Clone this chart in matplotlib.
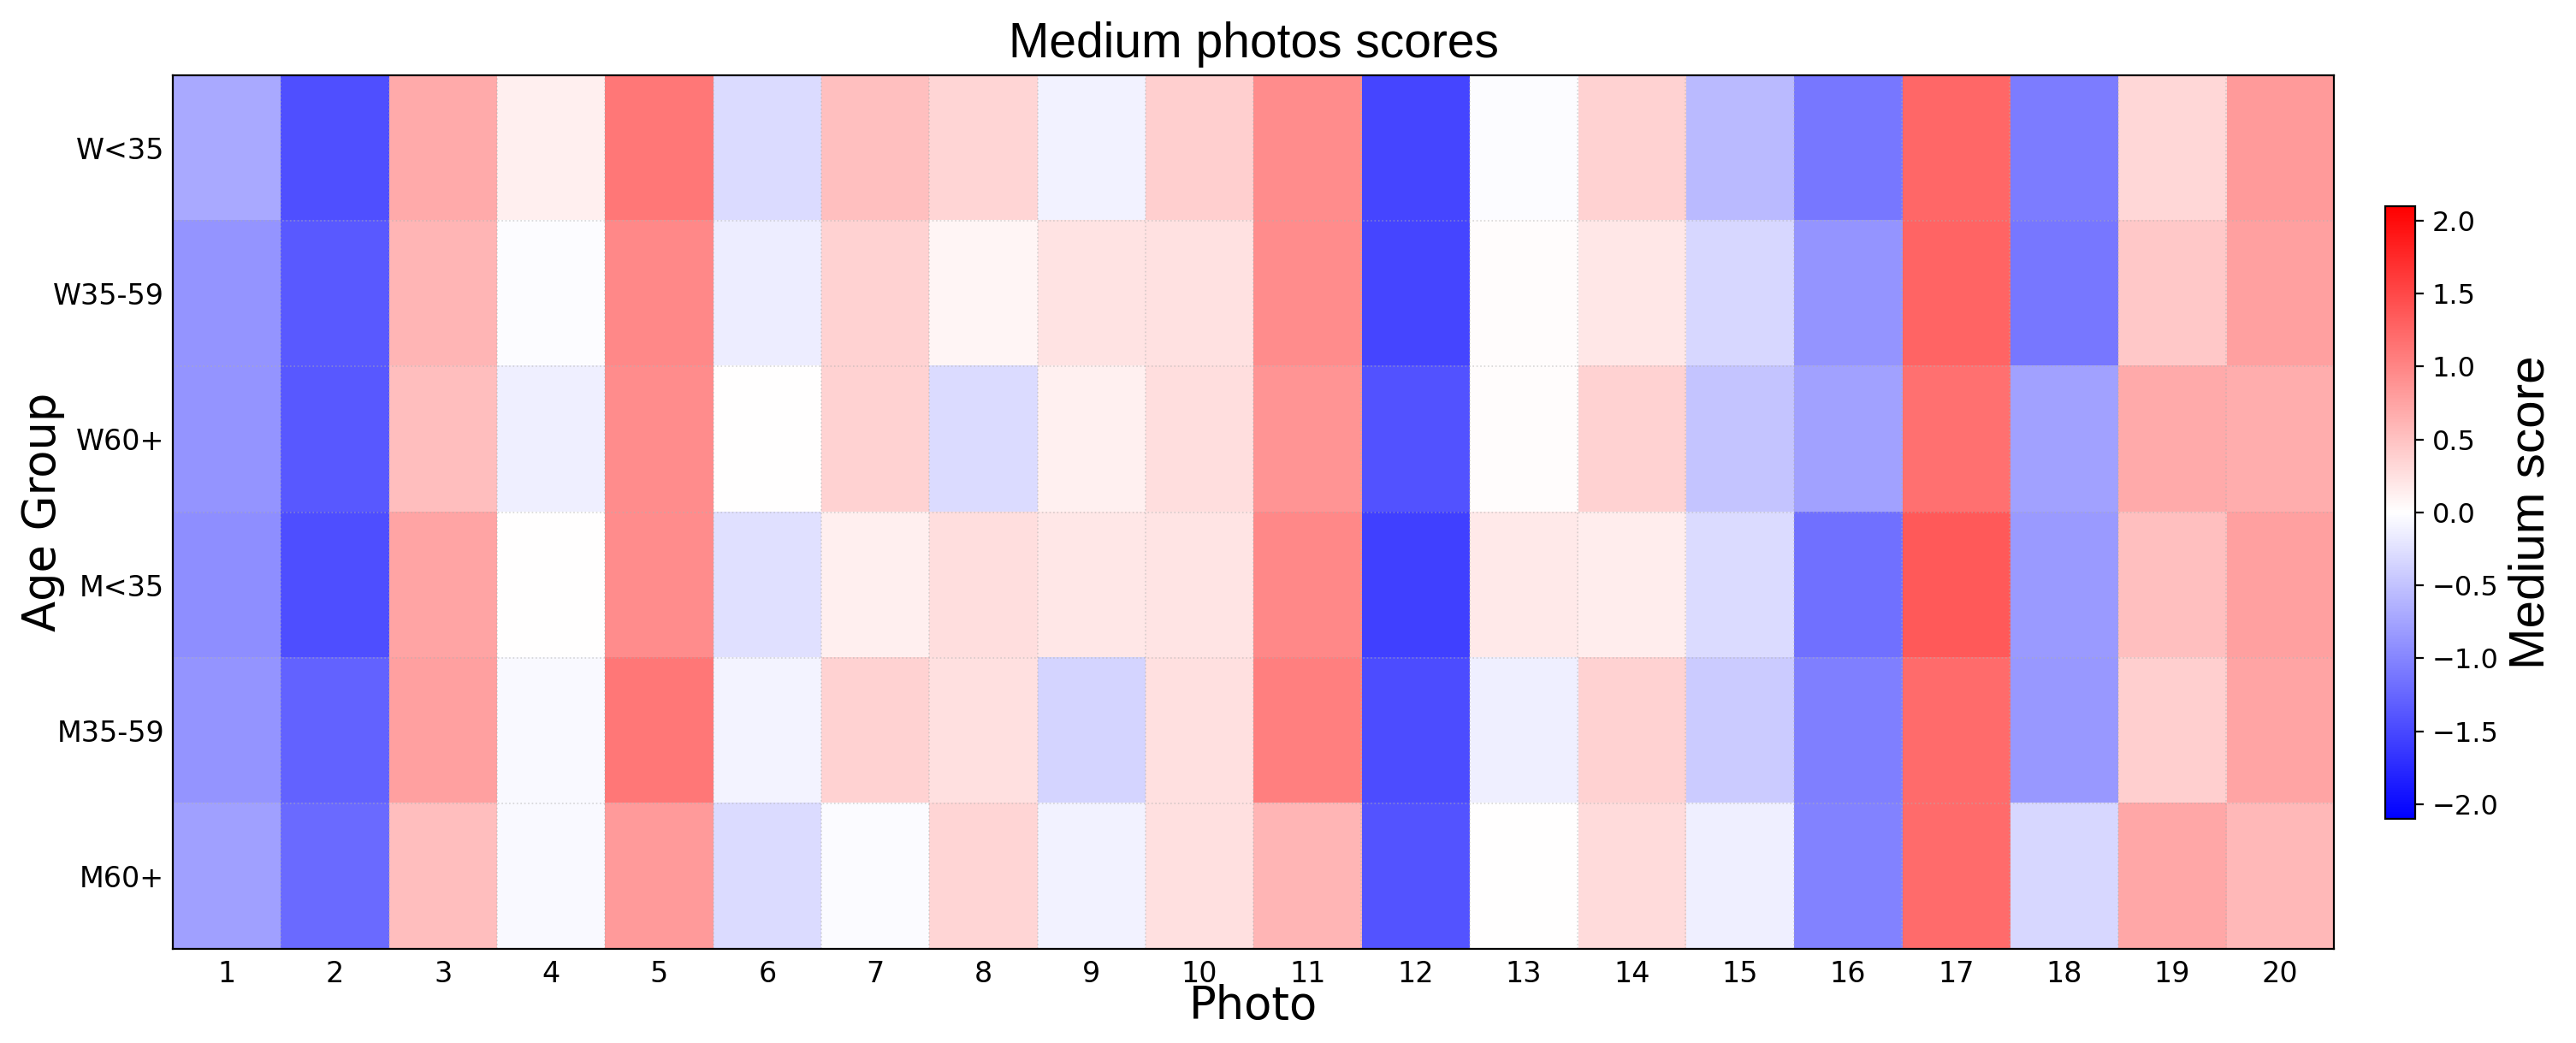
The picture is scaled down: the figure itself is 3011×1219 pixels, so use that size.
import numpy as np
import matplotlib.pyplot as plt
from matplotlib import cm, colors

# Datos
photos = [str(i) for i in range(1, 21)]
groups = ["W<35", "W35-59", "W60+", "M<35", "M35-59", "M60+"]

w_lt35 = [-0.95, -1.92, 0.93, 0.17, 1.48, -0.38, 0.69, 0.45, -0.14, 0.52,
          1.26, -2.05, -0.02, 0.48, -0.74, -1.48, 1.66, -1.44, 0.43, 1.09]
w_35_59 = [-1.18, -1.81, 0.82, -0.03, 1.31, -0.19, 0.48, 0.10, 0.30, 0.32,
           1.26, -2.05, 0.03, 0.25, -0.43, -1.18, 1.70, -1.48, 0.60, 1.04]
w_60p = [-1.18, -1.83, 0.71, -0.17, 1.26, 0.00, 0.48, -0.38, 0.15, 0.36,
         1.18, -1.90, 0.03, 0.48, -0.65, -1.02, 1.57, -1.02, 0.93, 0.90]
m_lt35 = [-1.22, -1.94, 1.00, 0.00, 1.26, -0.34, 0.17, 0.36, 0.25, 0.28,
          1.31, -2.10, 0.23, 0.19, -0.38, -1.57, 1.81, -1.11, 0.69, 1.04]
m_35_59 = [-1.18, -1.72, 1.04, -0.05, 1.48, -0.12, 0.48, 0.34, -0.47, 0.34,
           1.40, -1.96, -0.17, 0.48, -0.56, -1.40, 1.61, -1.13, 0.52, 1.00]
m_60p = [-1.04, -1.64, 0.71, -0.05, 1.09, -0.38, -0.04, 0.45, -0.14, 0.34,
         0.82, -1.88, 0.00, 0.38, -0.17, -1.37, 1.61, -0.43, 0.96, 0.78]

scores = np.array([w_lt35, w_35_59, w_60p, m_lt35, m_35_59, m_60p])
vlim = np.abs(scores).max()

fig = plt.figure(figsize=(15.055, 6.095), dpi=200)
ax = fig.add_axes([0.0671, 0.0902, 0.839, 0.8376])

ax.imshow(scores, cmap="bwr", vmin=-vlim, vmax=vlim, alpha=0.75,
          aspect="auto", interpolation="nearest")

ax.set_xticks(range(len(photos)))
ax.set_xticklabels(photos, fontsize=12)
ax.set_yticks(range(len(groups)))
ax.set_yticklabels(groups, fontsize=12)
ax.tick_params(axis="x", length=0, pad=4.7)
ax.tick_params(axis="y", length=0, pad=3.6)

# lineas finas entre celdas
ax.set_xticks(np.arange(-0.5, len(photos), 1), minor=True)
ax.set_yticks(np.arange(-0.5, len(groups), 1), minor=True)
ax.tick_params(which="minor", length=0)
ax.grid(which="minor", color="#b0b0b0", linestyle=":", linewidth=0.6, alpha=0.5)

ax.set_title("Medium photos scores", fontsize=20.5,
             family=["Liberation Sans", "DejaVu Sans"], pad=7.5)
ax.set_xlabel("Photo", fontsize=19)
ax.xaxis.set_label_coords(0.5, -0.040)
ax.set_ylabel("Age Group", fontsize=19)
ax.yaxis.set_label_coords(-0.050, 0.5)

cax = fig.add_axes([0.926, 0.215, 0.0116, 0.5874])
sm = cm.ScalarMappable(norm=colors.Normalize(-vlim, vlim), cmap="bwr")
cb = fig.colorbar(sm, cax=cax)
cb.set_ticks([-2.0, -1.5, -1.0, -0.5, 0.0, 0.5, 1.0, 1.5, 2.0])
cb.ax.tick_params(labelsize=11.5)
cb.set_label("Medium score", fontsize=21,
             family=["Liberation Sans Narrow", "Liberation Sans", "DejaVu Sans"])

fig.savefig("out.png", dpi=200)
